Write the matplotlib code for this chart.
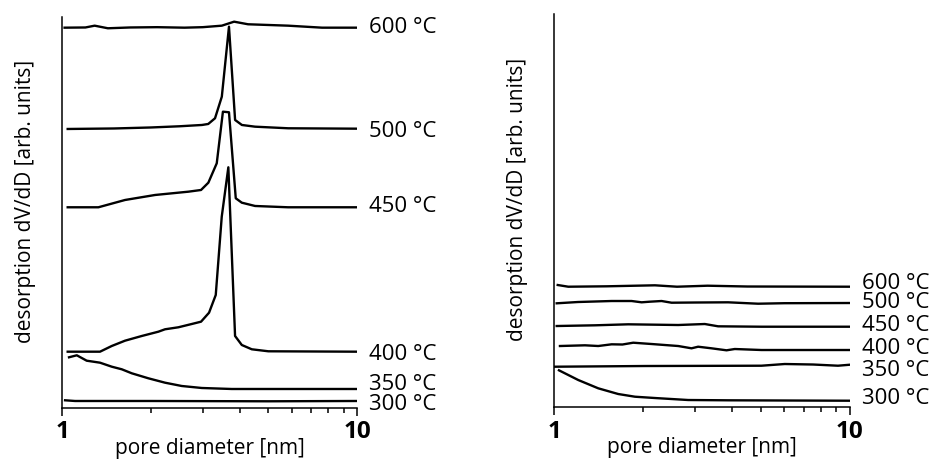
import numpy as np
import matplotlib.pyplot as plt
from matplotlib.transforms import blended_transform_factory

plt.rcParams['font.family'] = ['Open Sans', 'DejaVu Sans']

# ---- left panel: pore size distributions (arb. units, stacked) ----
d600 = [1.02, 1.20, 1.29, 1.43, 1.70, 2.10, 2.60, 3.00, 3.48, 3.83, 4.27, 5.84, 7.61, 10.0]
y600 = [380.3, 380.5, 382.3, 379.7, 380.5, 380.8, 380.3, 380.8, 382.3, 386.3, 383.7, 382.3, 380.3, 380.3]

d500 = [1.045, 1.5, 2.0, 2.5, 2.98, 3.13, 3.30, 3.48, 3.68, 3.86, 4.07, 4.51, 5.84, 10.0]
y500 = [279, 279.5, 280.5, 281.7, 283, 284, 289.7, 311.3, 381.3, 288, 283, 281.3, 279.7, 279.3]

d450 = [1.045, 1.328, 1.635, 2.067, 2.681, 2.959, 3.133, 3.345, 3.51, 3.68, 3.88, 4.067, 4.511, 5.836, 10.0]
y450 = [200.7, 200.7, 208, 213, 216.3, 218, 225.3, 244.7, 296.3, 295.7, 209.7, 205.3, 202, 200.7, 200.7]

d400 = [1.045, 1.345, 1.474, 1.635, 1.863, 2.121, 2.234, 2.479, 2.753, 2.959, 3.150, 3.319, 3.478,
        3.662, 3.859, 4.067, 4.397, 5.004, 10.0]
y400 = [56.3, 56.3, 62, 67.3, 72, 76.3, 78.7, 80.7, 84, 86.3, 95.3, 113, 191.3,
        240.7, 72, 63, 58.7, 56.7, 56.3]

d350 = [1.056, 1.122, 1.212, 1.345, 1.474, 1.594, 1.723, 1.961, 2.234, 2.545, 2.976, 3.761, 10.0]
y350 = [50.7, 52.7, 47.3, 45.3, 41.3, 38.7, 34.7, 29.7, 25.3, 22, 20, 19, 19]

d300 = [1.024, 1.107, 2.0, 5.0, 10.0]
y300 = [7.7, 7, 7, 6.7, 7]

# ---- right panel ----
r600_d = [1.027, 1.115, 1.5, 2.19, 2.6, 3.3, 4.5, 10]
r600_y = [122, 120.3, 120.7, 121.7, 120.3, 121.3, 120.5, 120.3]

r500_d = [1.019, 1.202, 1.563, 1.826, 1.974, 2.1, 2.306, 2.493, 3.0, 3.872, 4.889, 6.0, 10]
r500_y = [103.7, 105, 106, 106, 104.7, 105.3, 106, 104.3, 104.5, 104.7, 103.3, 103.8, 104]

r450_d = [1.019, 1.372, 1.778, 2.624, 3.229, 3.581, 5.020, 10]
r450_y = [81, 81.7, 82.7, 82, 83, 80.7, 80.3, 80.3]

r400_d = [1.045, 1.270, 1.408, 1.563, 1.7, 1.849, 2.133, 2.624, 2.912, 3.065, 3.402, 3.824, 4.078, 5.020, 10]
r400_y = [61, 61.7, 61, 62.7, 62.5, 64.3, 63, 61, 58.7, 60.3, 58.7, 56.7, 58, 57, 57]

r350_d = [1.0, 2.025, 5.020, 6.017, 7.5, 9.11, 10]
r350_y = [40.3, 41, 41.3, 43, 42.5, 41.3, 42.3]

r300_d = [1.037, 1.205, 1.408, 1.645, 1.874, 2.189, 2.836, 3.9, 10]
r300_y = [36.7, 27, 18.7, 13, 10.3, 9, 7, 6.7, 6.3]

labels = ['600 °C', '500 °C', '450 °C', '400 °C', '350 °C', '300 °C']
left_label_y = [380.3, 276.3, 201.3, 53, 23, 3]
right_label_y = [123.7, 104.3, 82, 58.7, 37, 8.7]

left_curves = [(d600, y600), (d500, y500), (d450, y450), (d400, y400), (d350, y350), (d300, y300)]
right_curves = [(r600_d, r600_y), (r500_d, r500_y), (r450_d, r450_y),
                (r400_d, r400_y), (r350_d, r350_y), (r300_d, r300_y)]

fig = plt.figure(figsize=(9.33, 4.65), dpi=100)
ax1 = fig.add_axes([0.0665, 0.1226, 0.3162, 0.8409])
ax2 = fig.add_axes([0.5941, 0.1247, 0.3169, 0.8452])


def style(ax, top, curves, label_y, ylab_y):
    for d, y in curves:
        ax.plot(d, y, color='black', lw=1.7, solid_joinstyle='round')
    ax.set_xscale('log')
    ax.set_xlim(1, 10)
    ax.set_ylim(0, top)
    for s in ['top', 'right']:
        ax.spines[s].set_visible(False)
    for s in ['left', 'bottom']:
        ax.spines[s].set_linewidth(1.1)
    ax.set_yticks([])
    ax.set_xticks([1, 10])
    ax.set_xticklabels(['1', '10'], fontsize=17.5, fontweight='bold')
    ax.tick_params(axis='x', which='major', length=6, width=1.1, pad=3)
    ax.tick_params(axis='x', which='minor', length=3.5, width=1.1)
    ax.xaxis.set_minor_formatter(plt.NullFormatter())
    ax.set_xlabel('pore diameter [nm]', fontsize=15)
    ax.xaxis.set_label_coords(0.5, -0.104)
    ax.xaxis.label.set_va('center')
    ax.set_ylabel('desorption dV/dD [arb. units]', fontsize=15)
    ax.yaxis.set_label_coords(-0.125, ylab_y)
    ax.yaxis.label.set_va('center')
    tr = blended_transform_factory(ax.transAxes, ax.transData)
    for lab, yy in zip(labels, label_y):
        ax.text(1.042, yy, lab, transform=tr, fontsize=16,
                va='center', ha='left')


style(ax1, 391, left_curves, left_label_y, 0.527)
style(ax2, 393, right_curves, right_label_y, 0.527)

fig.savefig('out.png', dpi=100)
